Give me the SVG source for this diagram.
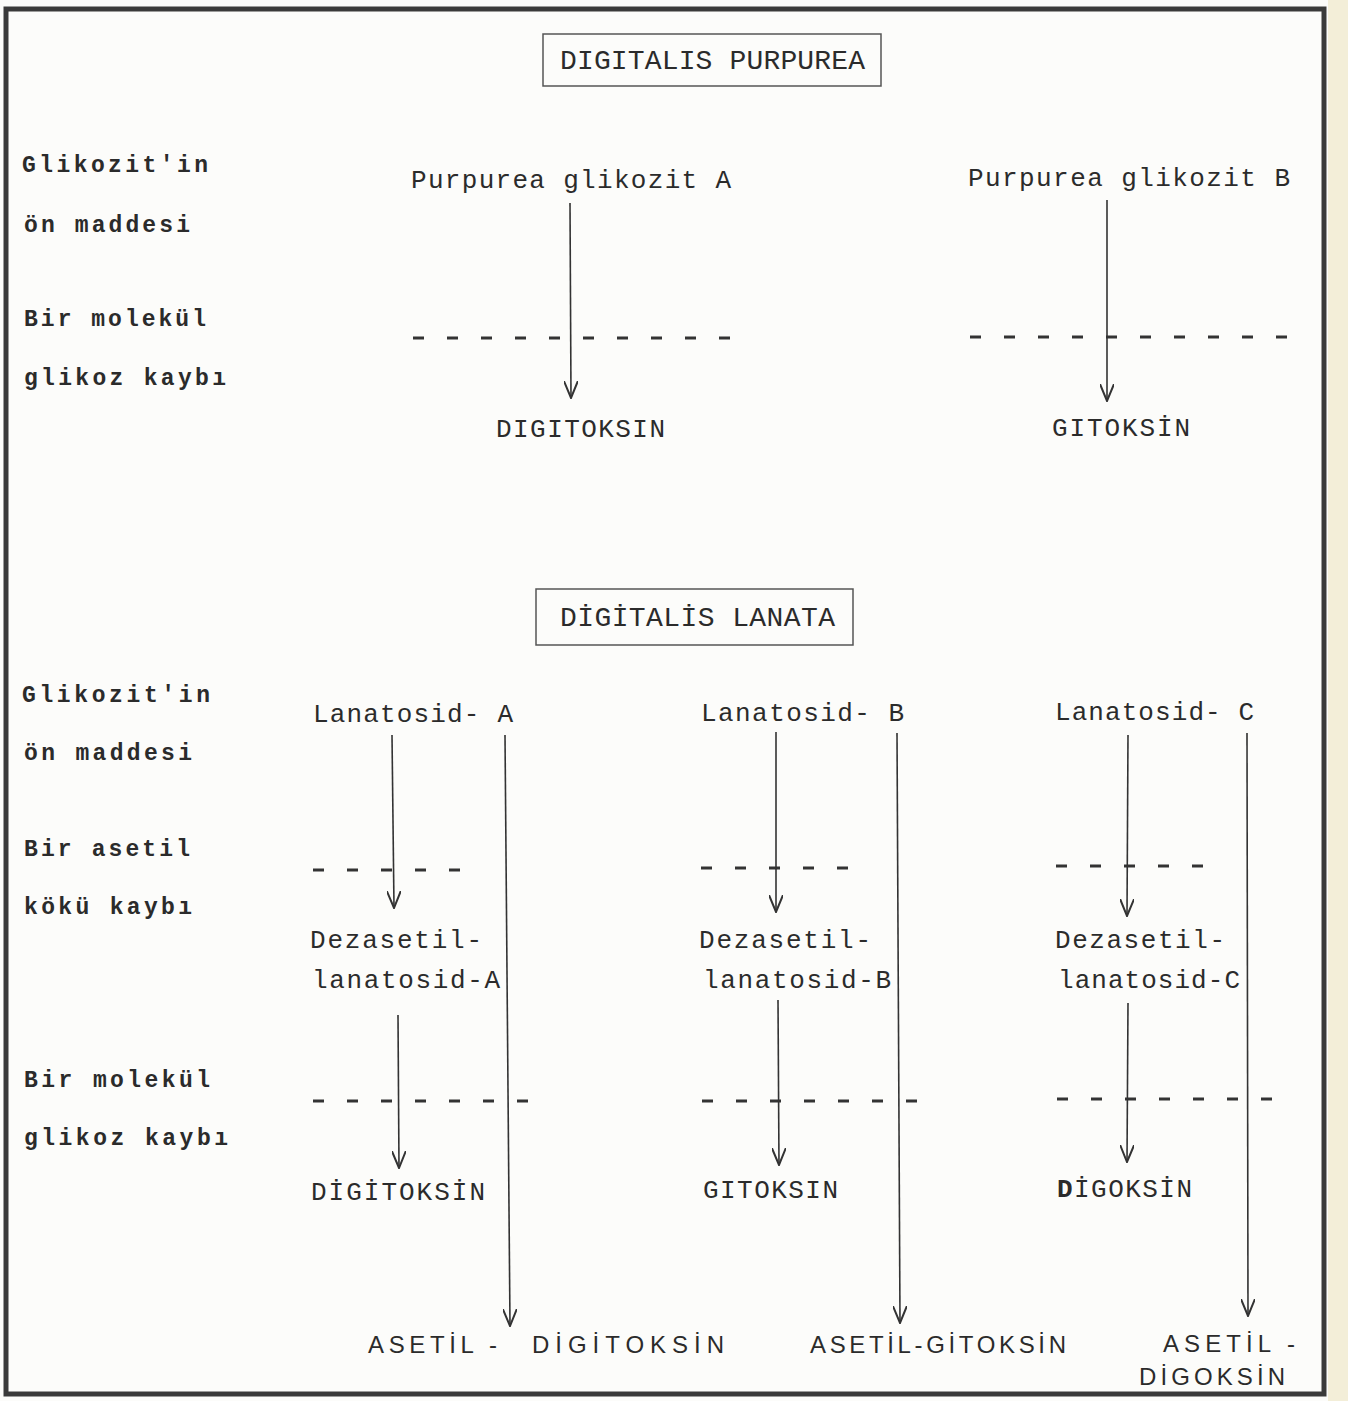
<svg xmlns="http://www.w3.org/2000/svg" width="1348" height="1401" viewBox="0 0 1348 1401">
<defs>
<style>
.bg{fill:#fcfcfa}
.frame{fill:none;stroke:#3a3a3a;stroke-width:5}
.box{fill:none;stroke:#555;stroke-width:1.5}
.t{font-family:"Liberation Mono","DejaVu Sans Mono",monospace;fill:#2b2b2b}
.lbl{font-size:23px;font-weight:bold}
.nd{font-size:26px}
.ttl{font-size:28px}
.sans{font-family:"Liberation Sans","DejaVu Sans",sans-serif;font-size:24px;fill:#2b2b2b}
.arr{stroke:#333;stroke-width:1.6;fill:none}
.sep{stroke:#333;stroke-width:3;stroke-dasharray:11 23;fill:none}
</style>
<marker id="ah" viewBox="0 0 18 14" refX="17" refY="7" markerWidth="18" markerHeight="14" markerUnits="userSpaceOnUse" orient="auto">
<path d="M0,0 L17,7 L0,14" fill="none" stroke="#333" stroke-width="2"/>
</marker>
</defs>
<rect class="bg" x="0" y="0" width="1348" height="1401"/>
<rect x="1328" y="0" width="20" height="1401" fill="#f3eed8"/>
<rect class="frame" x="6" y="9" width="1318" height="1385"/>

<g id="title-purpurea">
<rect class="box" x="543" y="34" width="338" height="52"/>
<text class="t ttl" x="560" y="69" textLength="305" lengthAdjust="spacing">DIGITALIS PURPUREA</text>
</g>
<g id="row-labels-purpurea">
<text class="t lbl" x="22" y="172" textLength="186" lengthAdjust="spacing">Glikozit'in</text>
<text class="t lbl" x="24" y="232" textLength="166" lengthAdjust="spacing">ön maddesi</text>
<text class="t lbl" x="24" y="326" textLength="182" lengthAdjust="spacing">Bir molekül</text>
<text class="t lbl" x="24" y="385" textLength="202" lengthAdjust="spacing">glikoz kaybı</text>
</g>
<g id="node-pga"><text class="t nd" x="411" y="188" textLength="320" lengthAdjust="spacing">Purpurea glikozit A</text></g>
<g id="node-pgb"><text class="t nd" x="968" y="186" textLength="322" lengthAdjust="spacing">Purpurea glikozit B</text></g>
<g id="node-digitoksin-1"><text class="t nd" x="496" y="437" textLength="169" lengthAdjust="spacing">DIGITOKSIN</text></g>
<g id="node-gitoksin-1"><text class="t nd" x="1052" y="436" textLength="138" lengthAdjust="spacing">GITOKSİN</text></g>

<g id="title-lanata">
<rect class="box" x="536" y="589" width="317" height="56"/>
<text class="t ttl" x="560" y="626" textLength="275" lengthAdjust="spacing">DİGİTALİS LANATA</text>
</g>
<g id="row-labels-lanata">
<text class="t lbl" x="22" y="702" textLength="188" lengthAdjust="spacing">Glikozit'in</text>
<text class="t lbl" x="24" y="760" textLength="168" lengthAdjust="spacing">ön maddesi</text>
<text class="t lbl" x="24" y="856" textLength="166" lengthAdjust="spacing">Bir asetil</text>
<text class="t lbl" x="24" y="914" textLength="168" lengthAdjust="spacing">kökü kaybı</text>
<text class="t lbl" x="24" y="1087" textLength="186" lengthAdjust="spacing">Bir molekül</text>
<text class="t lbl" x="24" y="1145" textLength="204" lengthAdjust="spacing">glikoz kaybı</text>
</g>
<g id="node-lan-a"><text class="t nd" x="313" y="722" textLength="200" lengthAdjust="spacing">Lanatosid- A</text></g>
<g id="node-lan-b"><text class="t nd" x="701" y="721" textLength="203" lengthAdjust="spacing">Lanatosid- B</text></g>
<g id="node-lan-c"><text class="t nd" x="1055" y="720" textLength="199" lengthAdjust="spacing">Lanatosid- C</text></g>
<g id="node-dez-a">
<text class="t nd" x="310" y="948" textLength="172" lengthAdjust="spacing">Dezasetil-</text>
<text class="t nd" x="312" y="988" textLength="188" lengthAdjust="spacing">lanatosid-A</text>
</g>
<g id="node-dez-b">
<text class="t nd" x="699" y="948" textLength="172" lengthAdjust="spacing">Dezasetil-</text>
<text class="t nd" x="703" y="988" textLength="188" lengthAdjust="spacing">lanatosid-B</text>
</g>
<g id="node-dez-c">
<text class="t nd" x="1055" y="948" textLength="170" lengthAdjust="spacing">Dezasetil-</text>
<text class="t nd" x="1058" y="988" textLength="182" lengthAdjust="spacing">lanatosid-C</text>
</g>
<g id="node-digitoksin-2"><text class="t nd" x="311" y="1200" textLength="174" lengthAdjust="spacing">DİGİTOKSİN</text></g>
<g id="node-gitoksin-2"><text class="t nd" x="703" y="1198" textLength="135" lengthAdjust="spacing">GITOKSIN</text></g>
<g id="node-digoksin"><text class="t nd" x="1057" y="1197" textLength="135" lengthAdjust="spacing"><tspan font-weight="bold">D</tspan>İGOKSİN</text></g>
<g id="node-asetil-digitoksin">
<text class="sans" x="368" y="1353" textLength="129" lengthAdjust="spacing">ASETİL -</text>
<text class="sans" x="532" y="1353" textLength="192" lengthAdjust="spacing">DİGİTOKSİN</text>
</g>
<g id="node-asetil-gitoksin"><text class="sans" x="810" y="1353" textLength="256" lengthAdjust="spacing">ASETİL-GİTOKSİN</text></g>
<g id="node-asetil-digoksin">
<text class="sans" x="1163" y="1352" textLength="132" lengthAdjust="spacing">ASETİL -</text>
<text class="sans" x="1139" y="1385" textLength="146" lengthAdjust="spacing">DİGOKSİN</text>
</g>

<g id="separators">
<line class="sep" x1="413" y1="338" x2="735" y2="338"/>
<line class="sep" x1="970" y1="337" x2="1292" y2="337"/>
<line class="sep" x1="313" y1="870" x2="465" y2="870"/>
<line class="sep" x1="701" y1="868" x2="853" y2="868"/>
<line class="sep" x1="1056" y1="866" x2="1208" y2="866"/>
<line class="sep" x1="313" y1="1101" x2="535" y2="1101"/>
<line class="sep" x1="702" y1="1101" x2="924" y2="1101"/>
<line class="sep" x1="1057" y1="1099" x2="1279" y2="1099"/>
</g>

<g id="connectors">
<line class="arr" x1="570" y1="203" x2="571" y2="398" marker-end="url(#ah)"/>
<line class="arr" x1="1107" y1="200" x2="1107" y2="401" marker-end="url(#ah)"/>
<line class="arr" x1="392" y1="735" x2="394" y2="908" marker-end="url(#ah)"/>
<line class="arr" x1="505" y1="735" x2="510" y2="1326" marker-end="url(#ah)"/>
<line class="arr" x1="776" y1="732" x2="776" y2="912" marker-end="url(#ah)"/>
<line class="arr" x1="897" y1="733" x2="900" y2="1323" marker-end="url(#ah)"/>
<line class="arr" x1="1128" y1="735" x2="1127" y2="916" marker-end="url(#ah)"/>
<line class="arr" x1="1247" y1="733" x2="1248" y2="1316" marker-end="url(#ah)"/>
<line class="arr" x1="398" y1="1015" x2="399" y2="1168" marker-end="url(#ah)"/>
<line class="arr" x1="778" y1="1000" x2="779" y2="1165" marker-end="url(#ah)"/>
<line class="arr" x1="1128" y1="1003" x2="1127" y2="1162" marker-end="url(#ah)"/>
</g>
</svg>
